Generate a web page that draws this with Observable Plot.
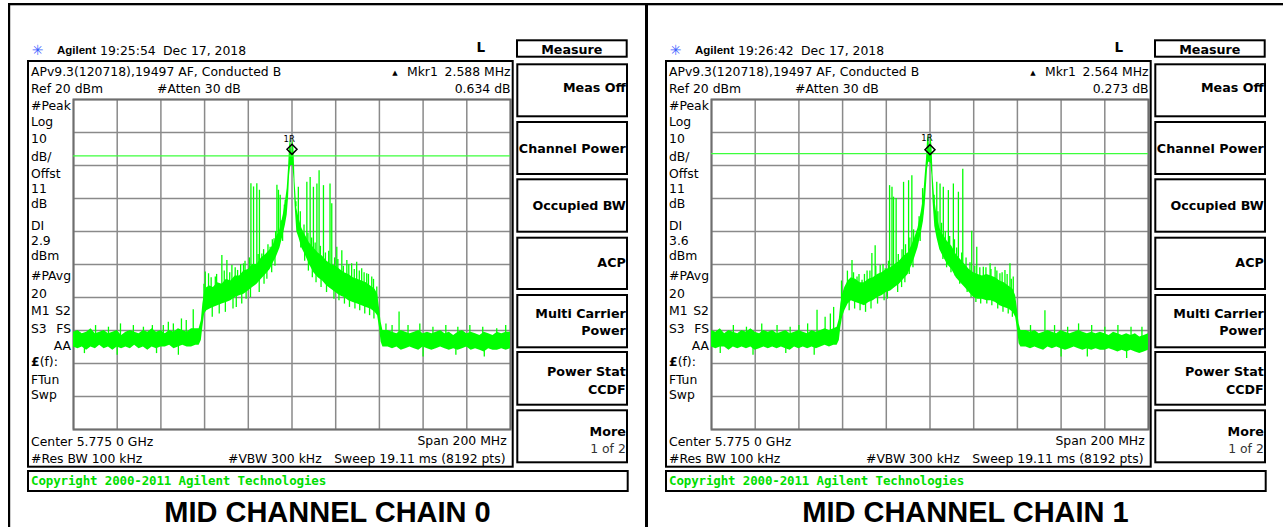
<!DOCTYPE html>
<html><head><meta charset="utf-8">
<script src="https://cdn.jsdelivr.net/npm/d3@7"></script>
<script src="https://cdn.jsdelivr.net/npm/@observablehq/plot@0.6"></script>
<style>
html,body{margin:0;padding:0;background:#fff;}
#page{position:relative;width:1283px;height:527px;overflow:hidden;background:#fff;}
#page svg.overlay{position:absolute;left:0;top:0;pointer-events:none;}
.plotwrap{position:absolute;}
</style></head><body><div id="page"></div>
<script>
// ---------------- DATA ----------------
const xTicks = [-100,-80,-60,-40,-20,0,20,40,60,80,100];   // MHz offset from 5.775 GHz (Span 200 MHz)
const yTicks = [20,10,0,-10,-20,-30,-40,-50,-60,-70,-80];  // dBm (Ref 20 dBm, 10 dB/div)

// Chain 0 trace envelope (MHz, dBm)
const freq0 = [-100,-98,-96,-94,-92,-90,-88,-86,-84,-82,-80,-78,-76,-74,-72,-70,-68,-66,-64,-62,-60,-58,-56,-54,-52,-50,-48,-46,-44,
  -42.5,-41.5,-40.8,-40,-39,-37.5,-36,-34,-32,-30,-28,-26,-24,-22,-20,-18,-16,-14,-12,-10,-8.5,-7,-5.5,-4,-3,-2.2,-1.6,-1.1,-0.6,-0.1,0.4,0.9,1.4,2.2,3.2,4.5,6,8,10,12,14,16,18,20,22,24,26,28,30,32,34,36,38,39.2,40,40.8,41.6,
  44,46,48,50,52,54,56,58,60,62,64,66,68,70,72,74,76,78,80,82,84,86,88,90,92,94,96,98,100];
const hi0 = [-50.5,-50,-51,-50.5,-49.5,-51,-50.5,-50,-51,-50.5,-50,-51.5,-50.5,-50,-50.5,-51,-50,-50.5,-49.5,-50.5,-50,-51,-50,-50.5,-49.5,-50,-50.5,-49.5,-49.5,
  -49.5,-47,-42,-38.5,-37,-36.5,-37,-35.5,-36,-34.5,-35,-33.5,-33.5,-32,-31.5,-30,-30,-28,-27,-25.5,-24,-21.5,-19.5,-15,-11,-7,-1,6,8.5,3,8,5,-5,-13,-16,-19,-21,-23.5,-25,-26.5,-27.5,-29,-30,-30.5,-31.5,-32.5,-33,-34,-34.5,-35,-35.5,-36.5,-37.5,-39,-43,-47.5,-50,
  -50,-50.5,-51,-50,-50.5,-51,-50.5,-50,-51,-50.5,-51,-50.5,-50,-51,-50.5,-51.5,-50.5,-50,-51,-50.5,-51,-51.5,-50.5,-51,-51.5,-50.5,-51,-50.5,-50.5];
const lo0 = [-55,-55.5,-55,-56,-55,-55.5,-54.5,-55.5,-55,-56,-55,-55.5,-55,-55.5,-54.5,-55.5,-55,-56,-55,-55.5,-55,-55,-54.5,-55.5,-55,-54.5,-55,-55,-54.5,
  -54.5,-53,-49,-45,-44,-43.5,-43,-42.5,-42,-41.5,-41,-40,-39.5,-39,-38,-37,-36,-34.5,-33,-31.5,-29.5,-27.5,-25,-21,-18,-15,-10,-3,0,0,0,-4,-12,-20,-22,-25,-27,-30,-32.5,-34,-35,-36.5,-37.5,-38.5,-39.5,-40,-41,-41.5,-42,-42.5,-43,-43.5,-44.5,-45.5,-49,-53.5,-55,
  -55,-55.5,-55,-56,-55.5,-55,-55.5,-56,-55,-55.5,-56,-55.5,-55,-55.5,-56,-55.5,-56,-55.5,-55,-56,-55.5,-56,-56.5,-55.5,-56,-56,-55.5,-56,-55.5];
// Chain 0 spikes (MHz, dBm reached)
const spikeF0 = [-95,-89.9,-84,-80,-78.5,-72.6,-68,-63.9,-62,-58.9,-56.6,-54.3,-52,-50.6,-48.4,-45.2,
  -39.7,-38.2,-35.1,-32.1,-29.8,-27.5,-24.9,-22.2,-20.6,-18.8,-17.6,-16.1,-14.9,-13.8,-12.3,-10,-8.2,-6.9,-6.2,-5.4,-4.6,-3.1,
  2.9,6.8,8.3,9.8,11.4,12.4,14.4,17.4,18.2,20.5,22.8,25.1,27.3,29.6,31.9,34.2,36.5,38.8,
  43,45.8,49,53.1,58.5,60,64.5,70.4,75,75.9,81.4,87.3,88,93.7,97.8,
  -40.3,-37,-36.5,-34.5,-33.3,-31,-30.5,-28.5,-27,-26,-25.5,-23.5,-23,-21.5,-21,-19.5,-19,-15.5,-15,-13,-12.8,-11,-11.5,-9,-9.3,-7.5,-7.8,-5,-4.3,-3.5,
  1.8,3.8,4,5.5,5.8,7.3,7.5,9,9.3,10.6,11,13,13.3,15.3,15.8,16.8,19.5,19.2,21,21.5,23.5,24,26,26.3,28.5,28.8,30.8,31,33,33.3,35,35.5,37.3,37.5];
const spikeL0 = [-57,-48.5,-49,-57.5,-48,-48.5,-49,-48.5,-57,-48.5,-47.5,-48,-57.5,-46.5,-47,-43.7,
  -32.3,-32.8,-33.8,-27.3,-28.8,-30.3,-31.8,-29.8,-32.8,-5.5,-6.5,-5.5,-7.5,-26.8,-27.8,-24.8,-22.2,-6,-7.5,-9,-16.7,-10.6,
  -6.6,-5.1,-3.6,-6.6,-5.6,-1.6,-6.1,-5.6,-11.6,-24.8,-25.8,-28.8,-29.8,-29.3,-31.3,-32.8,-33.8,-36.8,
  -48,-48.5,-44.4,-48.5,-48,-58,-49,-48.5,-57.5,-49,-48.5,-49,-58,-49.5,-48.5,
  -36,-34,-46,-33,-45,-32,-44.5,-32.5,-43.5,-31,-43,-30,-42,-29,-40.5,-28,-40,-27,-38.5,-25.5,-36,-24,-34.5,-22.5,-32.5,-20,-30.5,-17,-23,-12,
  -11,-14,-25,-18,-29,-20.5,-32,-22,-34,-23.5,-35.5,-24.5,-37,-26.5,-38.5,-26,-28,-40.5,-28.5,-41,-30.5,-42,-30,-43,-31.5,-43.5,-32,-44,-32.5,-45,-33,-45.5,-34.5,-46.5];

// Chain 1 trace envelope (MHz, dBm)
const freq1 = freq0;
const hi1 = [-50,-50.5,-49.5,-51,-50,-50.5,-51,-50,-50.5,-49.5,-50.5,-51,-50,-50.5,-50,-51,-50.5,-50,-51,-50.5,-50,-50.5,-51,-50,-50.5,-50,-49.5,-50,-49.5,
  -49,-46.5,-42,-39,-37,-35,-34,-34.5,-35.5,-35.5,-34.5,-34,-33,-32.5,-31.5,-31,-30,-29,-27.5,-26.5,-24.5,-22,-19,-14,-10,-3,2,8,9.5,4.5,9,6,-3,-10.5,-15,-19,-21,-23,-24.5,-27,-28.5,-30,-31.5,-32.5,-33,-33.5,-33,-33.5,-34,-35,-35.5,-36.5,-37.5,-39.5,-43.5,-48,-50,
  -50,-50.5,-50,-51,-50.5,-50,-50.5,-51,-50,-50.5,-51,-50.5,-50,-50.5,-51,-50.5,-51,-50.5,-51,-51.5,-50.5,-51,-51.5,-51,-51.5,-51,-52,-51.5,-51];
const lo1 = [-55,-55.5,-55,-55,-56,-55,-55.5,-55,-55.5,-55,-56,-55.5,-55,-55.5,-55,-55.5,-55,-55.5,-56,-55,-55.5,-55,-55.5,-55,-55.5,-55,-54.5,-55,-54.5,
  -54.5,-53,-49,-46,-44,-42,-41,-41.5,-42,-42.5,-41.5,-41,-40,-39.5,-38.5,-38,-37,-36,-34.5,-33,-30.5,-28,-25,-20.5,-17,-12,-6,-1,1,1,0.5,-3,-11,-18.5,-22,-25.5,-27.5,-30,-31.5,-34,-35.5,-37,-38.5,-40,-40.5,-40.5,-41,-41,-41.5,-42.5,-43,-43.5,-44.5,-46,-49.5,-54,-55,
  -55,-55.5,-55,-55.5,-56,-55,-55.5,-55,-55.5,-56,-55.5,-55,-55.5,-56,-55.5,-56,-55.5,-56,-56,-55.5,-56,-56.5,-56,-56.5,-56,-56.5,-57,-56.5,-56];
// Chain 1 spikes (MHz, dBm reached)
const spikeF1 = [-96,-90,-84,-81,-77,-70,-66,-64,-60,-56,-53,-51.7,-48,-45.6,-44.1,
  -35.7,-33.4,-31.1,-28.8,-26.6,-25.1,-22.8,-20.5,-18.5,-17.4,-16.7,-15.5,-13.7,-12.1,-10.6,-9.8,-8.3,-6,
  3.1,4.6,6.1,8.4,10.7,13,15,19.1,21.4,24.4,27.5,29.8,32,34.3,36.6,38.1,
  46,52.6,57,60,63,68,72,74,80,86,90,92,97,
  -40.5,-37.8,-37,-35,-34.5,-32.5,-32,-30,-29.5,-27.5,-27,-24.8,-24,-21.5,-21,-19,-19.5,-14.5,-14.8,-12.8,-13,-11.2,-11.5,-9.2,-9.5,-7.5,-7.8,-5,-4.5,-3.4,
  1.9,3.6,4.2,5.3,5.9,7,7.6,9,9.6,11.2,11.5,12.2,13.6,14.5,16.5,17,18.3,18.8,20.5,21,22.8,23.2,25.6,26,27.9,28.3,30.6,31,33,33.4,35.3,35.8,37.2,37.7];
const spikeL1 = [-57,-48.5,-49,-57.5,-48,-48.5,-57,-49,-48.5,-48,-57.5,-43.9,-46,-45,-43,
  -28.8,-33.8,-34.8,-32,-26.7,-24.3,-30.3,-31.3,-6.1,-6.6,-9.6,-10,-28.8,-5.1,-26.8,-4.6,-3.1,-20.1,
  -5.1,-5.6,-6.6,-7.6,-5.6,-8.1,-1.1,-19.9,-24.8,-30.8,-29.8,-30.8,-32.8,-31.8,-29.8,-33.8,
  -48.5,-44,-48.5,-58,-49,-48,-58,-48.5,-49,-48.5,-58.5,-49,-49,
  -35,-32,-44,-32.5,-43.5,-33,-44,-33,-44.5,-32,-43.5,-30.5,-42,-30,-41,-29,-40.5,-27,-38.5,-25.5,-37,-24,-35.5,-22,-33,-19.5,-31,-15.5,-23,-7,
  -9,-14,-24,-17.5,-28.5,-20,-31,-21.5,-32.5,-22.5,-33.5,-25,-36,-26.5,-28,-38.5,-29.5,-40,-30.5,-41.5,-31,-42,-31,-42,-31.5,-42.5,-32,-43.5,-32.5,-44.5,-33,-45,-34.5,-46];

// Marker / display line values
const displayLine = [2.9, 3.6];           // DI dBm
const markerF = [0, 0];                   // marker 1 at carrier peak (MHz offset)
const markerL = [4.9, 4.8];               // dBm
const markerText = ["1R", "1R"];

// Text content
const clockTimes = ["19:25:54", "19:26:42"];
const clockDate = "Dec 17, 2018";
const headerLine = "APv9.3(120718),19497 AF, Conducted B";
const mkrFreqText = ["2.588 MHz", "2.564 MHz"];
const mkrDeltaText = ["0.634 dB", "0.273 dB"];
const diText = ["2.9", "3.6"];
const sideLabels = ["#Peak","Log","10","dB/","Offst","11","dB","DI","DIVAL","dBm","#PAvg","20"];
const softkeyLabels = [["Meas Off"],["Channel Power"],["Occupied BW"],["ACP"],["Multi Carrier","Power"],["Power Stat","CCDF"],["More","1 of 2"]];
const titles = ["MID CHANNEL CHAIN 0", "MID CHANNEL CHAIN 1"];

// ---------------- LAYOUT ----------------
const PANEL_DX = [0, 638];
const INST = "'DejaVu Sans', sans-serif";
const page = d3.select("#page");
const traces = [
  {freq: freq0, lo: lo0, hi: hi0, sf: spikeF0, sl: spikeL0},
  {freq: freq1, lo: lo1, hi: hi1, sf: spikeF1, sl: spikeL1}
];
const labelPos = [[-1.3, 7.1], [-1.4, 7.4]];

function spectrum(i) {
  const tr = traces[i];
  const mid = d3.scaleLinear().domain(tr.freq).range(tr.freq.map((f, k) => (tr.lo[k] + tr.hi[k]) / 2));
  return Plot.plot({
    width: 441, height: 334, margin: 2,
    x: {domain: [-100, 100], axis: null},
    y: {domain: [-80, 20], axis: null},
    style: {background: "transparent", overflow: "visible"},
    marks: [
      Plot.ruleX(xTicks, {stroke: "#8a8a8a", strokeWidth: 1.5}),
      Plot.ruleY(yTicks, {stroke: "#8a8a8a", strokeWidth: 1.5}),
      Plot.frame({stroke: "#6e6e6e", strokeWidth: 2}),
      Plot.areaY(tr.freq, {x: tr.freq, y1: tr.lo, y2: tr.hi, fill: "#00ff00", curve: "linear"}),
      Plot.ruleX(tr.sf, {x: tr.sf, y1: tr.sf.map(f => mid(f)), y2: tr.sl, stroke: "#00ff00", strokeWidth: 1.3}),
      Plot.ruleY([displayLine[i]], {stroke: "#3cff3c", strokeWidth: 1.2}),
      Plot.dot([0], {x: [markerF[i]], y: [markerL[i]], symbol: "diamond2", r: 4.5, stroke: "#000", strokeWidth: 1.5, fill: "none"}),
      Plot.text([0], {x: [labelPos[i][0]], y: [labelPos[i][1]], text: [markerText[i]], fontSize: 8.5, fill: "#000", lineAnchor: "bottom", fontFamily: INST})
    ]
  });
}

for (let i = 0; i < 2; i++) {
  const wrap = page.append("div").attr("class", "plotwrap")
    .style("left", (71 + PANEL_DX[i]) + "px").style("top", "97px");
  wrap.node().appendChild(spectrum(i));
}

const svg = page.append("svg").attr("class", "overlay").attr("width", 1283).attr("height", 527);

function txt(x, y, s, o = {}) {
  const t = svg.append("text").attr("x", x).attr("y", y)
    .attr("text-anchor", o.anchor || "start")
    .attr("font-family", o.family || INST)
    .attr("font-size", o.size || 12.4)
    .attr("font-weight", o.weight || "normal")
    .attr("fill", o.fill || "#000");
  if (o.ls) t.attr("letter-spacing", o.ls);
  t.text(s);
  return t;
}
function box(x1, y1, x2, y2, w = 2, c = "#000") {
  svg.append("rect").attr("x", x1 + w / 2).attr("y", y1 + w / 2)
    .attr("width", x2 - x1 - w).attr("height", y2 - y1 - w)
    .attr("fill", "none").attr("stroke", c).attr("stroke-width", w);
}
function bar(x, y, w, h) {
  svg.append("rect").attr("x", x).attr("y", y).attr("width", w).attr("height", h).attr("fill", "#000");
}

// outer frame
bar(8, 3, 1275, 2.3);
bar(8, 3, 2.2, 524);
bar(645, 3, 3, 524);

const sideBase = [110,125.5,143.3,160.5,178,193.3,208.3,230,245,260,280,298.3];
const keyTop = [63.3,121,178.3,236.7,294,351,409.3];
const keyBot = [117.3,175,232.7,290,348.3,405.7,463.3];
const keyBase = [[92],[152.5],[210],[267],[318,335],[376,393.5],[436,452.5]];

for (let i = 0; i < 2; i++) {
  const d = PANEL_DX[i];
  // header
  txt(37.5 + d, 54.5, "✳", {anchor: "middle", size: 14, fill: "#3f63ff"});
  txt(57 + d, 53.5, "Agilent", {family: "'Liberation Sans', Arial, sans-serif", weight: "bold", size: 11.5});
  txt(100 + d, 55, clockTimes[i]);
  txt(163 + d, 55, clockDate);
  txt(476.5 + d, 51.7, "L", {weight: "bold", size: 13.5});
  // screen box
  box(27 + d, 60, 513.7 + d, 467.7);
  txt(31 + d, 75.8, headerLine);
  txt(395 + d, 75, "▲", {anchor: "middle", size: 7});
  txt(407 + d, 75.8, "Mkr1");
  txt(510.5 + d, 75.8, mkrFreqText[i], {anchor: "end"});
  txt(31 + d, 93.3, "Ref 20 dBm");
  txt(157 + d, 93.3, "#Atten 30 dB");
  txt(510.5 + d, 93.3, mkrDeltaText[i], {anchor: "end"});
  sideLabels.forEach((s, k) => txt(31 + d, sideBase[k], s === "DIVAL" ? diText[i] : s));
  txt(31 + d, 315.3, "M1"); txt(71 + d, 315.3, "S2", {anchor: "end"});
  txt(31 + d, 332.7, "S3"); txt(71 + d, 332.7, "FS", {anchor: "end"});
  txt(71 + d, 350, "AA", {anchor: "end"});
  const f = txt(31 + d, 366, "");
  f.append("tspan").attr("font-weight", "bold").text("£");
  f.append("tspan").text("(f):");
  txt(31 + d, 384, "FTun");
  txt(31 + d, 399, "Swp");
  txt(31 + d, 445.5, "Center 5.775 0 GHz");
  txt(506.7 + d, 444.7, "Span 200 MHz", {anchor: "end"});
  txt(31 + d, 463, "#Res BW 100 kHz");
  txt(228 + d, 463, "#VBW 300 kHz");
  txt(505.5 + d, 462.5, "Sweep 19.11 ms (8192 pts)", {anchor: "end"});
  // copyright
  box(27 + d, 470, 628.7 + d, 492);
  txt(31 + d, 485.3, "Copyright 2000-2011 Agilent Technologies",
      {family: "'DejaVu Sans Mono', monospace", weight: "bold", size: 12.5, fill: "#00dd00", ls: "-0.15"});
  // softkeys
  box(516 + d, 39.3, 627.7 + d, 57.7);
  txt(571.8 + d, 54, "Measure", {anchor: "middle", weight: "bold", size: 12.7});
  softkeyLabels.forEach((lines, k) => {
    box(516.3 + d, keyTop[k], 628 + d, keyBot[k]);
    lines.forEach((s, j) => {
      const regular = (s === "1 of 2");
      txt(625.8 + d, keyBase[k][j], s, {anchor: "end", weight: regular ? "normal" : "bold", size: regular ? 12.4 : 12.7, fill: regular ? "#333" : "#000"});
    });
  });
  // title
  txt(327.5 + d, 521.5, titles[i], {anchor: "middle", family: "'Liberation Sans', Arial, sans-serif", weight: "bold", size: 29});
}
</script>
</body></html>
